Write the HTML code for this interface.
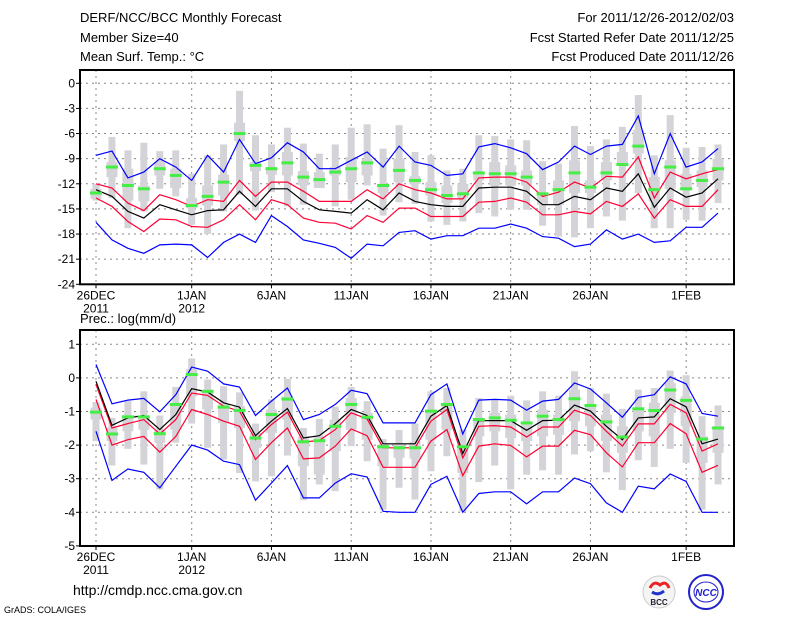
<!DOCTYPE html>
<html><head><meta charset="utf-8"><style>
html,body{margin:0;padding:0;background:#fff;}
svg{display:block;font-family:"Liberation Sans",sans-serif;}
</style></head><body>
<svg id="chart" width="800" height="618" viewBox="0 0 800 618" xmlns="http://www.w3.org/2000/svg">
<g font-size="13" fill="#000">
<text x="80" y="22">DERF/NCC/BCC Monthly Forecast</text>
<text x="80" y="42">Member Size=40</text>
<text x="80" y="61">Mean Surf. Temp.: °C</text>
<text x="734" y="22" text-anchor="end">For 2011/12/26-2012/02/03</text>
<text x="734" y="42" text-anchor="end">Fcst Started Refer Date 2011/12/25</text>
<text x="734" y="61" text-anchor="end">Fcst Produced Date 2011/12/26</text>
<text x="80" y="323">Prec.: log(mm/d)</text>
<text x="73" y="595" font-size="14">http://cmdp.ncc.cma.gov.cn</text>
<text x="4" y="613" font-size="9">GrADS: COLA/IGES</text>
</g>
<g>
<circle cx="659" cy="592" r="16" fill="#f4f4f4" stroke="#ccc"/>
<path d="M650 588 q4 -8 10 -3 q6 -5 9 3" fill="none" stroke="#e22" stroke-width="3"/>
<path d="M652 592 q6 4 12 -1" fill="none" stroke="#23c" stroke-width="3"/>
<text x="659" y="605" font-size="8" font-weight="bold" text-anchor="middle" fill="#223">BCC</text>
</g>
<g>
<circle cx="706" cy="592" r="17" fill="#fff" stroke="#22c" stroke-width="2"/>
<ellipse cx="706" cy="592" rx="12" ry="10" fill="none" stroke="#22c"/>
<text x="706" y="596" font-size="10" font-style="italic" font-weight="bold" text-anchor="middle" fill="#22c">NCC</text>
</g>
<g id="plots"></g>
</svg>
<script>
// ---- data: days ----
const dayLabels = ["26DEC","1JAN","6JAN","11JAN","16JAN","21JAN","26JAN","1FEB"];
const dayLabelIdx = [0,6,11,16,21,26,31,37];
const yearLabels = ["2011","2012"];
// ---- temperature panel ----
const tTicks = [0,-3,-6,-9,-12,-15,-18,-21,-24];
const tUpBlue = [-8.6,-8.1,-11.3,-10.6,-9.0,-10.0,-11.6,-8.6,-10.6,-6.7,-9.6,-8.9,-7.1,-8.2,-10.2,-10.2,-9.2,-8.2,-10.0,-7.5,-9.4,-9.8,-11.0,-10.8,-7.6,-7.2,-7.7,-8.4,-10.3,-9.4,-7.5,-8.5,-7.5,-7.3,-3.9,-10.8,-6.0,-10.0,-9.4,-7.8];
const tUpRed = [-12.0,-12.5,-14.3,-15.2,-13.3,-13.9,-14.7,-13.9,-14.1,-11.6,-13.5,-11.8,-11.8,-12.9,-14.1,-14.1,-14.1,-12.7,-13.8,-12.0,-12.7,-13.1,-13.8,-13.8,-11.3,-11.2,-11.2,-11.8,-13.5,-13.0,-11.8,-12.5,-11.1,-11.2,-8.8,-13.7,-10.6,-11.4,-10.8,-10.3];
const tMean = [-12.7,-13.5,-15.3,-16.1,-14.5,-15.1,-15.7,-15.2,-15.1,-12.9,-14.7,-12.6,-12.6,-14.1,-15.1,-15.3,-15.5,-13.9,-15.1,-13.1,-14.1,-14.5,-14.7,-14.7,-12.5,-12.4,-12.4,-12.9,-14.5,-14.5,-13.5,-13.9,-12.5,-12.9,-10.8,-14.8,-12.5,-13.6,-13.1,-11.4];
const tLoRed = [-13.7,-14.7,-16.5,-17.7,-16.2,-16.3,-17.1,-17.2,-16.3,-14.5,-16.3,-13.9,-14.5,-16.1,-16.6,-16.7,-17.4,-15.8,-16.6,-14.9,-14.9,-15.9,-15.9,-15.9,-14.2,-14.1,-13.7,-14.2,-15.7,-15.7,-15.3,-15.6,-14.1,-14.7,-13.2,-16.1,-13.9,-14.7,-14.7,-12.7];
const tLoBlue = [-16.6,-18.7,-19.7,-20.3,-19.3,-19.2,-19.3,-20.8,-19.0,-18.0,-19.0,-15.8,-17.1,-18.7,-19.1,-19.6,-20.9,-19.2,-19.4,-17.8,-17.6,-18.6,-18.2,-18.2,-17.3,-17.3,-16.8,-17.3,-18.3,-18.5,-19.5,-19.2,-17.5,-18.6,-18.0,-19.0,-18.8,-17.2,-17.2,-15.5];
const tObs = [-13.1,-10.0,-12.2,-12.6,-10.2,-11.0,-14.6,-13.5,-11.8,-6.0,-9.8,-10.2,-9.5,-11.2,-11.5,-10.6,-10.2,-9.5,-12.2,-10.4,-11.6,-12.7,-13.4,-13.2,-10.7,-10.8,-10.8,-11.2,-13.2,-12.7,-10.7,-12.4,-10.7,-9.7,-7.5,-12.7,-10.0,-12.6,-11.6,-10.2];
const tMax = [-12.0,-6.4,-8.0,-7.1,-8.1,-8.0,-10.8,-8.6,-7.3,-0.9,-6.2,-7.3,-5.3,-7.2,-8.4,-7.3,-5.3,-4.9,-7.8,-5.0,-8.2,-8.6,-10.4,-10.2,-6.2,-6.3,-6.7,-6.8,-9.3,-9.6,-5.1,-7.5,-6.7,-5.2,-1.4,-8.6,-3.8,-7.7,-7.6,-7.3];
const tMin = [-14.0,-13.7,-17.3,-15.3,-12.6,-13.5,-16.9,-18.0,-15.3,-13.3,-15.2,-13.0,-14.7,-14.5,-12.5,-14.7,-13.9,-12.2,-15.8,-14.2,-14.4,-16.5,-16.9,-16.5,-15.5,-15.9,-15.1,-15.1,-17.0,-18.3,-18.4,-17.3,-15.9,-16.4,-13.1,-17.3,-17.3,-16.3,-16.4,-14.3];
const tQ3 = [-12.6,-9.4,-10.2,-12.2,-9.4,-10.2,-13.7,-12.2,-10.9,-4.7,-9.4,-10.0,-8.2,-10.5,-10.6,-10.0,-8.8,-9.0,-12.0,-9.0,-11.1,-11.8,-12.2,-12.0,-10.6,-9.4,-9.8,-10.4,-13.1,-11.6,-9.2,-11.6,-9.4,-8.2,-5.6,-11.2,-9.2,-10.8,-10.4,-9.0];
const tQ1 = [-13.8,-11.2,-14.0,-14.1,-11.0,-12.5,-14.9,-14.6,-13.4,-6.9,-10.5,-10.9,-11.0,-12.2,-12.5,-11.0,-11.8,-11.0,-13.1,-11.8,-12.0,-13.4,-14.3,-13.7,-11.6,-12.2,-12.2,-12.2,-14.5,-14.5,-13.1,-13.1,-11.6,-9.8,-8.4,-14.1,-12.6,-12.7,-12.4,-11.6];
// ---- precipitation panel ----
const pTicks = [1,0,-1,-2,-3,-4,-5];
const pUpBlue = [0.4,-0.77,-0.66,-0.61,-1.01,-0.5,0.32,0.2,-0.18,-0.27,-1.12,-0.69,-0.3,-1.24,-1.09,-0.79,-0.37,-0.47,-1.34,-1.34,-1.34,-0.5,-0.18,-1.67,-0.66,-0.64,-0.66,-0.96,-0.69,-0.64,-0.15,-0.33,-0.74,-1.17,-0.58,-0.5,0.03,-0.18,-1.06,-1.14];
const pUpRed = [-0.2,-1.49,-1.36,-1.24,-1.67,-1.24,-0.45,-0.52,-0.84,-0.99,-1.84,-1.39,-1.02,-1.91,-1.86,-1.54,-1.04,-1.22,-2.08,-2.08,-2.08,-1.29,-0.94,-2.38,-1.44,-1.42,-1.46,-1.76,-1.46,-1.46,-0.96,-1.12,-1.59,-2.03,-1.37,-1.37,-0.79,-1.04,-2.18,-1.96];
const pMean = [-0.1,-1.41,-1.19,-1.12,-1.54,-1.09,-0.32,-0.42,-0.74,-0.87,-1.72,-1.29,-0.91,-1.79,-1.72,-1.36,-0.94,-1.12,-1.96,-1.96,-1.96,-1.14,-0.82,-2.25,-1.27,-1.27,-1.27,-1.56,-1.27,-1.26,-0.81,-0.99,-1.44,-1.84,-1.19,-1.16,-0.62,-0.86,-1.96,-1.82];
const pLoRed = [-0.64,-2.0,-1.84,-1.74,-2.21,-1.74,-0.94,-1.09,-1.29,-1.44,-2.43,-1.93,-1.49,-2.41,-2.38,-2.03,-1.52,-1.72,-2.66,-2.66,-2.66,-1.88,-1.54,-2.91,-2.03,-1.96,-2.01,-2.35,-2.03,-2.03,-1.56,-1.69,-2.23,-2.65,-1.93,-1.93,-1.36,-1.66,-2.81,-2.6];
const pLoBlue = [-1.59,-3.05,-2.71,-2.81,-3.27,-2.63,-2.0,-2.15,-2.48,-2.58,-3.64,-3.13,-2.61,-3.57,-3.57,-3.13,-2.85,-2.95,-3.97,-4.0,-4.0,-3.17,-2.93,-4.0,-3.44,-3.39,-3.39,-3.75,-3.39,-3.39,-2.98,-3.15,-3.72,-4.0,-3.22,-3.3,-2.86,-3.08,-4.0,-4.0];
const pObs = [-1.02,-1.67,-1.16,-1.16,-1.66,-0.79,0.1,-0.4,-0.87,-0.97,-1.79,-1.09,-0.63,-1.9,-1.87,-1.44,-0.79,-1.17,-2.05,-2.08,-2.08,-0.99,-0.79,-2.05,-1.24,-1.19,-1.26,-1.34,-1.14,-1.24,-0.62,-0.82,-1.31,-1.76,-0.92,-0.97,-0.36,-0.67,-1.82,-1.49];
const pMax = [-0.72,-1.19,-0.69,-0.4,-1.12,-0.27,0.58,-0.05,-0.25,-0.43,-1.36,-0.64,-0.03,-1.49,-1.22,-0.86,-0.27,-0.69,-1.82,-1.55,-1.36,-0.4,-0.3,-1.54,-0.6,-0.63,-0.53,-0.67,-0.4,-0.53,0.2,-0.3,-0.47,-0.92,-0.35,-0.3,0.22,0.08,-1.14,-0.82];
const pMin = [-1.88,-2.61,-2.11,-2.58,-3.32,-1.93,-1.36,-2.08,-2.43,-2.83,-3.08,-2.93,-2.31,-3.64,-3.17,-3.37,-2.03,-2.48,-3.92,-3.27,-3.62,-2.78,-2.33,-3.97,-3.1,-2.61,-3.32,-2.88,-2.75,-2.88,-2.28,-2.18,-2.81,-3.34,-2.45,-2.65,-2.11,-2.53,-3.92,-3.17];
const pQ3 = [-0.89,-1.49,-1.12,-1.16,-1.54,-0.79,0.27,-0.35,-0.79,-0.84,-1.64,-0.94,-0.55,-1.74,-1.74,-1.24,-0.6,-1.04,-1.98,-1.98,-1.9,-0.94,-0.84,-2.03,-1.19,-1.04,-1.09,-1.39,-0.94,-1.09,-0.35,-0.79,-1.09,-1.44,-0.94,-0.74,-0.15,-0.55,-1.74,-1.44];
const pQ1 = [-1.24,-1.88,-1.59,-1.54,-1.93,-1.54,-0.55,-0.94,-1.34,-1.49,-2.08,-1.64,-1.24,-2.63,-2.88,-2.18,-1.54,-1.84,-2.63,-2.38,-2.4,-1.84,-1.54,-2.83,-1.74,-1.59,-1.79,-1.88,-1.74,-1.69,-1.29,-1.44,-1.88,-2.23,-1.59,-1.74,-1.04,-1.44,-2.53,-2.23];

const NS='http://www.w3.org/2000/svg';
const root=document.getElementById('plots');
function el(tag,attrs,parent){const e=document.createElementNS(NS,tag);for(const k in attrs)e.setAttribute(k,attrs[k]);(parent||root).appendChild(e);return e;}
const X0=80, X1=734;
function xDay(i){return 96+i*15.95;}

function panel(name, top, bottom, y0px, pxPerUnit, ticks, s){
  const yv=v=>y0px - v*pxPerUnit;
  const g=el('g',{});
  
  
  // grid
  ticks.forEach(t=>{
    const l=el('line',{x1:X0,x2:X1,y1:yv(t),y2:yv(t),stroke:'#888','stroke-dasharray':'2,4','stroke-width':1},g);
    
    
    const tx=el('text',{x:75,y:yv(t)+4,'font-size':12,'text-anchor':'end'},g);
    
    
    tx.textContent=t;
    el('line',{x1:X0-4,x2:X0,y1:yv(t),y2:yv(t),stroke:'#000'},g);
  });
  dayLabelIdx.forEach((d,k)=>{
    const x=xDay(d);
    const l=el('line',{x1:x,x2:x,y1:top,y2:bottom,stroke:'#888','stroke-dasharray':'2,4'},g);
    
    
    el('line',{x1:x,x2:x,y1:bottom,y2:bottom+4,stroke:'#000'},g);
    const tx=el('text',{x:x,y:bottom+15,'font-size':12,'text-anchor':'middle'},g);
    
    
    tx.textContent=dayLabels[k];
    if(k<2){
      const ty=el('text',{x:x,y:bottom+28,'font-size':12,'text-anchor':'middle'},g);
      
      
      ty.textContent=yearLabels[k];
    }
  });
  // boxes
  for(let i=0;i<s.max.length;i++){
    const x=xDay(i);
    const w=el('rect',{x:x-3.5,y:yv(s.max[i]),width:7,height:yv(s.min[i])-yv(s.max[i]),fill:'#d4d4d8'},g);
    
    
    const b=el('rect',{x:x-5.5,y:yv(s.q3[i]),width:11,height:yv(s.q1[i])-yv(s.q3[i]),fill:'#d4d4d8'},g);
    
    
  }
  function line(arr,color,nm){
    const p=el('polyline',{points:arr.map((v,i)=>xDay(i).toFixed(1)+','+yv(v).toFixed(1)).join(' '),fill:'none',stroke:color,'stroke-width':1.2},g);
    
    
  }
  line(s.upBlue,'#0000ff','upper-bound-line');
  line(s.loBlue,'#0000ff','lower-bound-line');
  line(s.upRed,'#ff0033','upper-quartile-line');
  line(s.loRed,'#ff0033','lower-quartile-line');
  line(s.mean,'#000000','ensemble-mean-line');
  for(let i=0;i<s.obs.length;i++){
    const x=xDay(i);
    const r=el('rect',{x:x-6,y:yv(s.obs[i])-1.5,width:12,height:3,fill:'#44ee44'},g);
    
    
  }
  const f=el('rect',{x:X0,y:top,width:X1-X0,height:bottom-top,fill:'none',stroke:'#000','stroke-width':2},g);
  
  
}
panel('temperature-panel',70,284.3,83.3,8.375,tTicks,{upBlue:tUpBlue,upRed:tUpRed,mean:tMean,loRed:tLoRed,loBlue:tLoBlue,obs:tObs,max:tMax,min:tMin,q3:tQ3,q1:tQ1});
panel('precipitation-panel',330,546,377.9,33.6,pTicks,{upBlue:pUpBlue,upRed:pUpRed,mean:pMean,loRed:pLoRed,loBlue:pLoBlue,obs:pObs,max:pMax,min:pMin,q3:pQ3,q1:pQ1});
</script>
</body></html>
